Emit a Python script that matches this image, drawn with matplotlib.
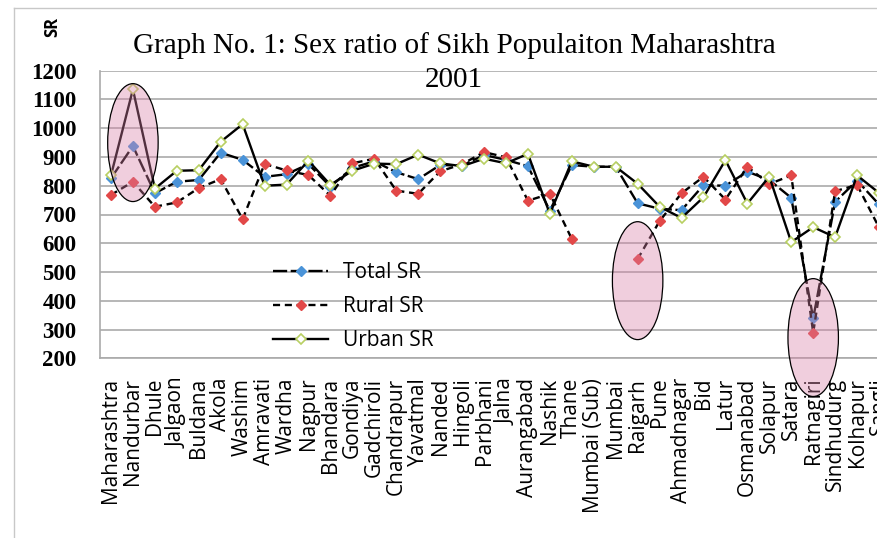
import matplotlib
matplotlib.use("Agg")
import matplotlib.pyplot as plt
import numpy as np
from matplotlib.patches import Ellipse
from matplotlib.lines import Line2D

districts = ["Maharashtra", "Nandurbar", "Dhule", "Jalgaon", "Buldana", "Akola",
             "Washim", "Amravati", "Wardha", "Nagpur", "Bhandara", "Gondiya",
             "Gadchiroli", "Chandrapur", "Yavatmal", "Nanded", "Hingoli", "Parbhani",
             "Jalna", "Aurangabad", "Nashik", "Thane", "Mumbai (Sub)", "Mumbai",
             "Raigarh", "Pune", "Ahmadnagar", "Bid", "Latur", "Osmanabad", "Solapur",
             "Satara", "Ratnagiri", "Sindhudurg", "Kolhapur", "Sangli"]

total_sr = [826, 938, 774, 814, 820, 915, 890, 831, 840, 875, 797, 862,
            885, 847, 823, 872, 870, 907, 890, 868, 713, 872, 866, 866,
            739, 720, 715, 802, 800, 849, 820, 758, 339, 744, 818, 735]

rural_sr = [768, 814, 727, 742, 792, 823, 684, 876, 853, 837, 765, 878,
            894, 783, 772, 850, 875, 917, 899, 748, 772, 615, np.nan, np.nan,
            545, 677, 774, 831, 752, 866, 806, 836, 289, 781, 803, 655]

urban_sr = [836, 1135, 790, 852, 854, 953, 1014, 800, 804, 887, 803, 852,
            877, 875, 908, 878, 868, 894, 878, 911, 702, 885, 866, 866,
            807, 727, 688, 760, 889, 738, 832, 604, 656, 621, 836, 775]

y_ticks = list(range(200, 1300, 100))

# annotation ellipses (category, centre value)
highlight_districts = ["Nandurbar", "Raigarh", "Ratnagiri"]
highlight_centres = [950, 470, 272]

title_line1 = "Graph No. 1: Sex ratio of Sikh Populaiton Maharashtra"
title_line2 = "2001"

W, H = 877, 538
fig = plt.figure(figsize=(W / 100, H / 100), dpi=100)


def fx(px):
    return px / W


def fy(py):
    return 1 - py / H


ax = fig.add_axes([fx(100), fy(358.3), 790 / W, (358.3 - 70.7) / H])
x = np.arange(len(districts))

ax.plot(x, total_sr, color="black", lw=1.7, ls=(0, (6, 1.5)), marker="D", ms=5.5,
        mfc="#4a93d8", mec="#4a93d8", label="Total SR", zorder=3)
ax.plot(x, rural_sr, color="black", lw=1.7, ls=(0, (3, 2)), marker="D", ms=5.5,
        mfc="#e24848", mec="#e24848", label="Rural SR", zorder=3)
ax.plot(x, urban_sr, color="black", lw=1.7, ls="-", marker="D", ms=5.5,
        mfc="white", mec="#b8cf62", mew=1.2, label="Urban SR", zorder=3)

ax.set_xlim(-0.5, len(districts) - 0.5)
ax.set_ylim(200, 1200)
ax.set_yticks(y_ticks)
ax.set_yticklabels([str(v) for v in y_ticks], fontfamily="Liberation Serif",
                   fontweight="bold", fontsize=16.5)
ax.set_xticks(x)
ax.set_xticklabels(districts, rotation=90, fontfamily="Open Sans", fontsize=15)
ax.tick_params(axis="x", length=0, pad=14)
ax.tick_params(axis="y", length=0, pad=17)
ax.yaxis.grid(True, color="#aaaaaa", lw=1.2)
ax.set_axisbelow(True)
for s in ["top", "right"]:
    ax.spines[s].set_visible(False)
for s in ["left", "bottom"]:
    ax.spines[s].set_color("#aaaaaa")
    ax.spines[s].set_linewidth(1.2)

leg = ax.legend(loc="upper left", bbox_to_anchor=(fx(273), fy(262)),
                bbox_transform=fig.transFigure, frameon=False,
                prop={"family": "Open Sans", "size": 15},
                handlelength=2.65, handletextpad=0.72, labelspacing=0.62,
                borderpad=0, borderaxespad=0)

for name, c in zip(highlight_districts, highlight_centres):
    i = districts.index(name)
    e = Ellipse((i, c), width=2.3, height=410, facecolor=(0.85, 0.5, 0.65, 0.38),
                edgecolor="black", lw=0.9, zorder=10, clip_on=False)
    ax.add_patch(e)

fig.text(fx(454), fy(53), title_line1, ha="center", va="baseline",
         fontfamily="Liberation Serif", fontsize=21)
fig.text(fx(454), fy(87), title_line2, ha="center", va="baseline",
         fontfamily="Liberation Serif", fontsize=21)

fig.text(fx(52), fy(27), "SR", rotation=90, ha="center", va="center",
         fontfamily="Open Sans", fontweight="bold", fontsize=12)

fig.add_artist(Line2D([fx(14), fx(14)], [fy(8), 0], transform=fig.transFigure,
                      color="#c8c8c8", lw=1))
fig.add_artist(Line2D([fx(14), 1], [fy(8), fy(8)], transform=fig.transFigure,
                      color="#c8c8c8", lw=1))

fig.savefig("out.png", dpi=100)
